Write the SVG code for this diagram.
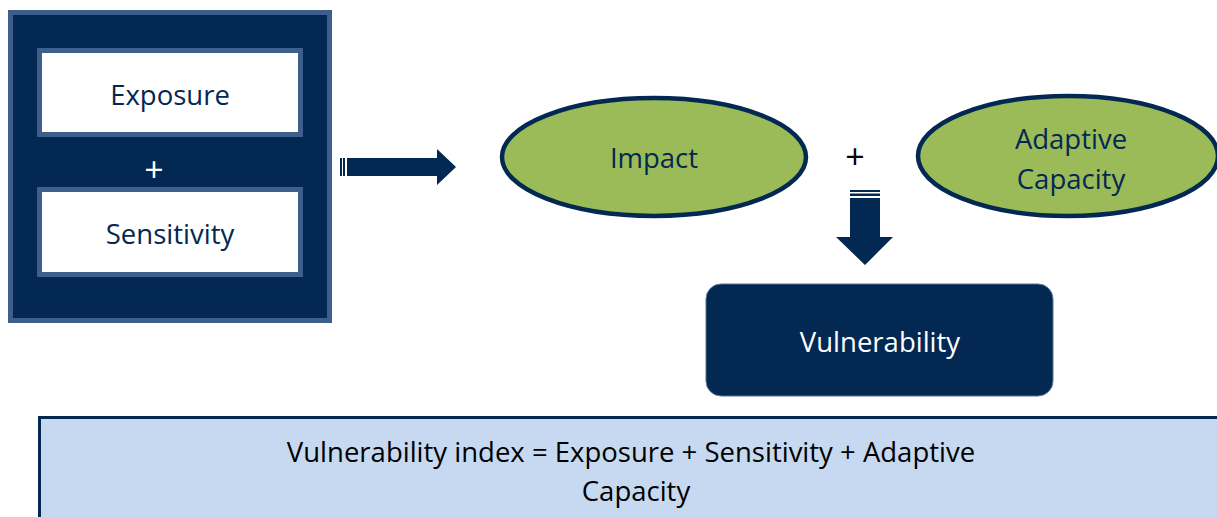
<svg xmlns="http://www.w3.org/2000/svg" width="1217" height="517" viewBox="0 0 1217 517">
  <style>
    .lbl { font-family: "Open Sans", "Noto Sans", sans-serif; text-anchor: middle; font-size: 27.5px; }
    .plus { font-family: "Open Sans", "Noto Sans", sans-serif; text-anchor: middle; font-size: 34px; }
    .navy { fill: #032851; }
    .frame { fill: #032851; stroke: #3e5f8c; stroke-width: 5; }
    .inner { fill: #ffffff; stroke: #3e5f8c; stroke-width: 5; }
    .oval { fill: #9bbb59; stroke: #032851; stroke-width: 4.5; }
  </style>
  <rect width="1217" height="517" fill="#ffffff"/>

  <!-- Exposure + Sensitivity block -->
  <g id="node-exposure-sensitivity">
    <rect class="frame" x="10.5" y="12.5" width="319" height="308"/>
    <rect class="inner" x="39.5" y="50.5" width="261" height="84"/>
    <text class="lbl" x="170" y="105" fill="#032851">Exposure</text>
    <text class="plus" x="154" y="182" fill="#ffffff">+</text>
    <rect class="inner" x="39.5" y="189.5" width="261" height="85"/>
    <text class="lbl" x="170" y="244" fill="#032851">Sensitivity</text>
  </g>

  <!-- Impact -->
  <g id="node-impact">
    <ellipse class="oval" cx="654" cy="157" rx="152" ry="59"/>
    <text class="lbl" x="654" y="168" fill="#032851">Impact</text>
  </g>

  <!-- plus sign between the ovals -->
  <text class="plus" x="855" y="169" fill="#000000">+</text>

  <!-- Adaptive Capacity -->
  <g id="node-adaptive-capacity">
    <ellipse class="oval" cx="1068" cy="156" rx="150" ry="60"/>
    <text class="lbl" x="1071" y="149" fill="#032851">Adaptive</text>
    <text class="lbl" x="1071" y="189" fill="#032851">Capacity</text>
  </g>

  <!-- Vulnerability -->
  <g id="node-vulnerability">
    <rect x="706" y="284" width="347" height="112" rx="15" ry="15" fill="#032851" stroke="#5a7396" stroke-width="1"/>
    <text class="lbl" x="880" y="352" fill="#ffffff">Vulnerability</text>
  </g>

  <!-- Index formula -->
  <g id="node-index">
    <rect x="39.5" y="417.5" width="1190" height="110" fill="#c6d9f0" stroke="#032851" stroke-width="3"/>
    <text class="lbl" x="631" y="462" fill="#000000">Vulnerability index = Exposure + Sensitivity + Adaptive</text>
    <text class="lbl" x="636" y="501" fill="#000000">Capacity</text>
  </g>

  <!-- Block arrows -->
  <g id="connectors" class="navy">
    <!-- right-pointing striped arrow -->
    <rect x="340" y="158" width="2" height="18"/>
    <rect x="343" y="158" width="2" height="18"/>
    <polygon points="347,158 437,158 437,149 456,167 437,185 437,176 347,176"/>
    <!-- down-pointing striped arrow -->
    <rect x="850" y="190" width="30" height="2"/>
    <rect x="850" y="193.5" width="30" height="2.5"/>
    <polygon points="850,198 880,198 880,237 893,237 865,265 836,237 850,237"/>
  </g>
</svg>
